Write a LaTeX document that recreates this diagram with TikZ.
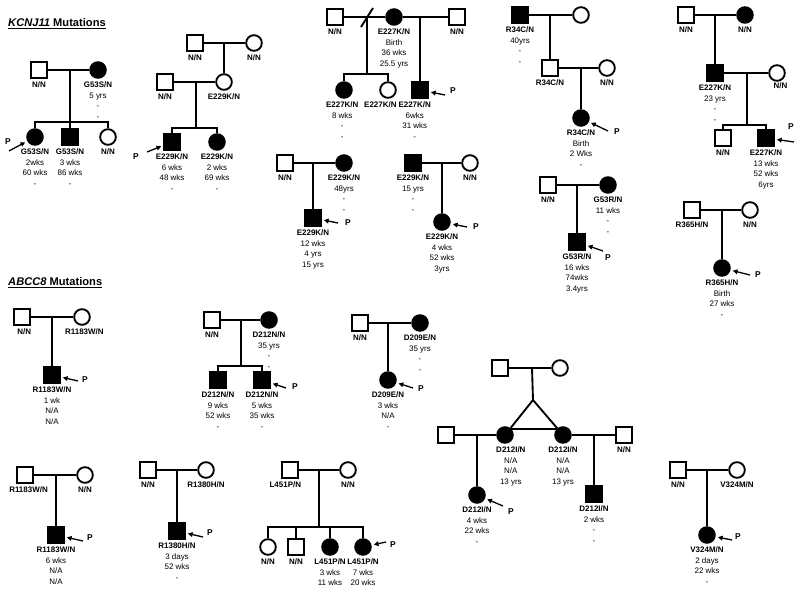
\documentclass[tikz,border=0pt]{standalone}
\usepackage{fontspec}
\setmainfont{Liberation Sans}
\usetikzlibrary{arrows.meta, positioning, calc}

\begin{document}
\begin{tikzpicture}[x=0.03cm, y=-0.03cm,
  male/.style={draw, rectangle, line width=1.6pt, minimum size=0.46cm, inner sep=0pt, fill=white},
  female/.style={draw, circle, line width=1.6pt, minimum size=0.47cm, inner sep=0pt, fill=white},
  aff/.style={fill=black},
  link/.style={line width=1.6pt},
  info/.style={align=center, inner sep=0pt, font=\fontsize{6.8}{9}\selectfont},
  tag/.style={inner sep=0pt, font=\bfseries\fontsize{7.2}{9}\selectfont},
  parrow/.style={-{Triangle[length=4pt, width=4pt]}, line width=1.1pt, shorten >=2pt},
  heading/.style={anchor=west, inner sep=0pt, font=\bfseries\fontsize{9.5}{11}\selectfont},
  node distance=2.5pt
]
\useasboundingbox (0,0) rectangle (800,592);

\node[heading] (kcnj) at (8,24) {\underline{\textit{KCNJ11} Mutations}};
\node[heading] (abcc) at (8,283) {\underline{\textit{ABCC8} Mutations}};

% ---------- KCNJ11: G53S
\node[male] (p1f) at (39,70) {};
\node[female, aff] (p1m) at (98,70) {};
\node[female, aff] (p1c1) at (35,137) {};
\node[male, aff] (p1c2) at (70,137) {};
\node[female] (p1c3) at (108,137) {};
\coordinate (p1d) at (70,70);
\coordinate (p1s) at (70,122);
\draw[link] (p1f) -- (p1m);
\draw[link] (p1d) -- (p1c2);
\draw[link] (p1c1) |- (p1s) -| (p1c3);
\node[info, below=of p1f] (l1f) {\textbf{N/N}};
\node[info, below=of p1m] (l1m) {\textbf{G53S/N}\\5 yrs\\-\\-};
\node[info, below=of p1c1] (l1c1) {\textbf{G53S/N}\\2wks\\60 wks\\-};
\node[info, below=of p1c2] (l1c2) {\textbf{G53S/N}\\3 wks\\86 wks\\-};
\node[info, below=of p1c3] (l1c3) {\textbf{N/N}};
\node[tag] (p1p) at (8,142) {P};
\coordinate (p1a) at (9,151);
\draw[parrow] (p1a) -- (p1c1);

% ---------- KCNJ11: E229K (three generations)
\node[male] (p2gf) at (195,43) {};
\node[female] (p2gm) at (254,43) {};
\node[male] (p2f) at (165,82) {};
\node[female] (p2m) at (224,82) {};
\node[male, aff] (p2c1) at (172,142) {};
\node[female, aff] (p2c2) at (217,142) {};
\coordinate (p2g) at (224,43);
\coordinate (p2d) at (196,82);
\coordinate (p2s) at (196,128);
\draw[link] (p2gf) -- (p2gm);
\draw[link] (p2g) -- (p2m);
\draw[link] (p2f) -- (p2m);
\draw[link] (p2d) -- (p2s);
\draw[link] (p2c1) |- (p2s) -| (p2c2);
\node[info, below=of p2gf] (l2gf) {\textbf{N/N}};
\node[info, below=of p2gm] (l2gm) {\textbf{N/N}};
\node[info, below=of p2f] (l2f) {\textbf{N/N}};
\node[info, below=of p2m] (l2m) {\textbf{E229K/N}};
\node[info, below=of p2c1] (l2c1) {\textbf{E229K/N}\\6 wks\\48 wks\\-};
\node[info, below=of p2c2] (l2c2) {\textbf{E229K/N}\\2 wks\\69 wks\\-};
\node[tag] (p2p) at (136,157) {P};
\coordinate (p2a) at (147,152);
\draw[parrow] (p2a) -- (p2c1);

% ---------- KCNJ11: E227K (two partners)
\node[male] (p3f1) at (335,17) {};
\node[female, aff] (p3m) at (394,17) {};
\node[male] (p3f2) at (457,17) {};
\node[female, aff] (p3c1) at (344,90) {};
\node[female] (p3c2) at (388,90) {};
\node[male, aff] (p3c3) at (420,90) {};
\coordinate (p3d1) at (367,17);
\coordinate (p3s1) at (367,74);
\coordinate (p3d2) at (420,17);
\draw[link] (p3f1) -- (p3m);
\draw[link] (p3m) -- (p3f2);
\draw[link] ($(p3d1)+(-6,10)$) -- ($(p3d1)+(6,-9)$);
\draw[link] (p3d1) -- (p3s1);
\draw[link] (p3c1) |- (p3s1) -| (p3c2);
\draw[link] (p3d2) -- (p3c3);
\node[info, below=of p3f1] (l3f1) {\textbf{N/N}};
\node[info, below=of p3m] (l3m) {\textbf{E227K/N}\\Birth\\36 wks\\25.5 yrs};
\node[info, below=of p3f2] (l3f2) {\textbf{N/N}};
\node[info, below=of p3c1, xshift=-1.5pt] (l3c1) {\textbf{E227K/N}\\8 wks\\-\\-};
\node[info, below=of p3c2, xshift=-6.5pt] (l3c2) {\textbf{E227K/N}};
\node[info, below=of p3c3, xshift=-4.5pt] (l3c3) {\textbf{E227K/N}\\6wks\\31 wks\\-};
\node[tag] (p3p) at (453,91) {P};
\coordinate (p3a) at (445,95);
\draw[parrow] (p3a) -- (p3c3);

% ---------- KCNJ11: R34C
\node[male, aff] (p4f) at (520,15) {};
\node[female] (p4m) at (581,15) {};
\node[male] (p4s) at (550,68) {};
\node[female] (p4w) at (607,68) {};
\node[female, aff] (p4c) at (581,118) {};
\coordinate (p4d1) at (550,15);
\coordinate (p4d2) at (581,68);
\draw[link] (p4f) -- (p4m);
\draw[link] (p4d1) -- (p4s);
\draw[link] (p4s) -- (p4w);
\draw[link] (p4d2) -- (p4c);
\node[info, below=of p4f] (l4f) {\textbf{R34C/N}\\40yrs\\-\\-};
\node[info, below=of p4s] (l4s) {\textbf{R34C/N}};
\node[info, below=of p4w] (l4w) {\textbf{N/N}};
\node[info, below=of p4c] (l4c) {\textbf{R34C/N}\\Birth\\2 Wks\\-};
\node[tag] (p4p) at (617,132) {P};
\coordinate (p4a) at (608,131);
\draw[parrow] (p4a) -- (p4c);

% ---------- KCNJ11: E227K (three generations)
\node[male] (p5f) at (686,15) {};
\node[female, aff] (p5m) at (745,15) {};
\node[male, aff] (p5s) at (715,73) {};
\node[female] (p5w) at (777,73) {};
\node[male] (p5c1) at (723,138) {};
\node[male, aff] (p5c2) at (766,138) {};
\coordinate (p5d1) at (715,15);
\coordinate (p5d2) at (747,73);
\coordinate (p5s2) at (747,125);
\draw[link] (p5f) -- (p5m);
\draw[link] (p5d1) -- (p5s);
\draw[link] (p5s) -- (p5w);
\draw[link] (p5d2) -- (p5s2);
\draw[link] (p5c1) |- (p5s2) -| (p5c2);
\node[info, below=of p5f] (l5f) {\textbf{N/N}};
\node[info, below=of p5m] (l5m) {\textbf{N/N}};
\node[info, below=of p5s] (l5s) {\textbf{E227K/N}\\23 yrs\\-\\-};
\node[info, below=1pt of p5w, xshift=3pt] (l5w) {\textbf{N/N}};
\node[info, below=of p5c1] (l5c1) {\textbf{N/N}};
\node[info, below=of p5c2] (l5c2) {\textbf{E227K/N}\\13 wks\\52 wks\\6yrs};
\node[tag] (p5p) at (791,127) {P};
\coordinate (p5a) at (794,142);
\draw[parrow] (p5a) -- (p5c2);

% ---------- KCNJ11: E229K (48yrs)
\node[male] (p6f) at (285,163) {};
\node[female, aff] (p6m) at (344,163) {};
\node[male, aff] (p6c) at (313,218) {};
\coordinate (p6d) at (313,163);
\draw[link] (p6f) -- (p6m);
\draw[link] (p6d) -- (p6c);
\node[info, below=of p6f] (l6f) {\textbf{N/N}};
\node[info, below=of p6m] (l6m) {\textbf{E229K/N}\\48yrs\\-\\-};
\node[info, below=of p6c] (l6c) {\textbf{E229K/N}\\12 wks\\4 yrs\\15 yrs};
\node[tag] (p6p) at (348,223) {P};
\coordinate (p6a) at (338,223);
\draw[parrow] (p6a) -- (p6c);

% ---------- KCNJ11: E229K (15 yrs)
\node[male, aff] (p7f) at (413,163) {};
\node[female] (p7m) at (470,163) {};
\node[female, aff] (p7c) at (442,222) {};
\coordinate (p7d) at (442,163);
\draw[link] (p7f) -- (p7m);
\draw[link] (p7d) -- (p7c);
\node[info, below=of p7f] (l7f) {\textbf{E229K/N}\\15 yrs\\-\\-};
\node[info, below=of p7m] (l7m) {\textbf{N/N}};
\node[info, below=of p7c] (l7c) {\textbf{E229K/N}\\4 wks\\52 wks\\3yrs};
\node[tag] (p7p) at (476,227) {P};
\coordinate (p7a) at (467,227);
\draw[parrow] (p7a) -- (p7c);

% ---------- KCNJ11: G53R
\node[male] (p8f) at (548,185) {};
\node[female, aff] (p8m) at (608,185) {};
\node[male, aff] (p8c) at (577,242) {};
\coordinate (p8d) at (577,185);
\draw[link] (p8f) -- (p8m);
\draw[link] (p8d) -- (p8c);
\node[info, below=of p8f] (l8f) {\textbf{N/N}};
\node[info, below=of p8m] (l8m) {\textbf{G53R/N}\\11 wks\\-\\-};
\node[info, below=of p8c] (l8c) {\textbf{G53R/N}\\16 wks\\74wks\\3.4yrs};
\node[tag] (p8p) at (608,258) {P};
\coordinate (p8a) at (603,251);
\draw[parrow] (p8a) -- (p8c);

% ---------- KCNJ11: R365H
\node[male] (p9f) at (692,210) {};
\node[female] (p9m) at (750,210) {};
\node[female, aff] (p9c) at (722,268) {};
\coordinate (p9d) at (722,210);
\draw[link] (p9f) -- (p9m);
\draw[link] (p9d) -- (p9c);
\node[info, below=of p9f] (l9f) {\textbf{R365H/N}};
\node[info, below=of p9m] (l9m) {\textbf{N/N}};
\node[info, below=of p9c] (l9c) {\textbf{R365H/N}\\Birth\\27 wks\\-};
\node[tag] (p9p) at (758,275) {P};
\coordinate (p9a) at (750,275);
\draw[parrow] (p9a) -- (p9c);

% ---------- ABCC8: R1183W (1 wk)
\node[male] (p10f) at (22,317) {};
\node[female] (p10m) at (82,317) {};
\node[male, aff] (p10c) at (52,375) {};
\coordinate (p10d) at (52,317);
\draw[link] (p10f) -- (p10m);
\draw[link] (p10d) -- (p10c);
\node[info, below=of p10f, xshift=2pt] (l10f) {\textbf{N/N}};
\node[info, below=of p10m, xshift=2pt] (l10m) {\textbf{R1183W/N}};
\node[info, below=of p10c] (l10c) {\textbf{R1183W/N}\\1 wk\\N/A\\N/A};
\node[tag] (p10p) at (85,380) {P};
\coordinate (p10a) at (78,381);
\draw[parrow] (p10a) -- (p10c);

% ---------- ABCC8: D212N
\node[male] (p11f) at (212,320) {};
\node[female, aff] (p11m) at (269,320) {};
\node[male, aff] (p11c1) at (218,380) {};
\node[male, aff] (p11c2) at (262,380) {};
\coordinate (p11d) at (241,320);
\coordinate (p11s) at (241,366);
\draw[link] (p11f) -- (p11m);
\draw[link] (p11d) -- (p11s);
\draw[link] (p11c1) |- (p11s) -| (p11c2);
\node[info, below=of p11f] (l11f) {\textbf{N/N}};
\node[info, below=of p11m] (l11m) {\textbf{D212N/N}\\35 yrs\\-\\-};
\node[info, below=of p11c1] (l11c1) {\textbf{D212N/N}\\9 wks\\52 wks\\-};
\node[info, below=of p11c2] (l11c2) {\textbf{D212N/N}\\5 wks\\35 wks\\-};
\node[tag] (p11p) at (295,387) {P};
\coordinate (p11a) at (286,388);
\draw[parrow] (p11a) -- (p11c2);

% ---------- ABCC8: D209E
\node[male] (p12f) at (360,323) {};
\node[female, aff] (p12m) at (420,323) {};
\node[female, aff] (p12c) at (388,380) {};
\coordinate (p12d) at (388,323);
\draw[link] (p12f) -- (p12m);
\draw[link] (p12d) -- (p12c);
\node[info, below=of p12f] (l12f) {\textbf{N/N}};
\node[info, below=of p12m] (l12m) {\textbf{D209E/N}\\35 yrs\\-\\-};
\node[info, below=of p12c] (l12c) {\textbf{D209E/N}\\3 wks\\N/A\\-};
\node[tag] (p12p) at (421,389) {P};
\coordinate (p12a) at (413,388);
\draw[parrow] (p12a) -- (p12c);

% ---------- ABCC8: D212I (twins)
\node[male] (p13f) at (500,368) {};
\node[female] (p13m) at (560,368) {};
\node[female, aff] (p13t1) at (505,435) {};
\node[female, aff] (p13t2) at (563,435) {};
\node[male] (p13s1) at (446,435) {};
\node[male] (p13s2) at (624,435) {};
\node[female, aff] (p13c1) at (477,495) {};
\node[male, aff] (p13c2) at (594,494) {};
\coordinate (p13d) at (532,368);
\coordinate (p13ap) at (533,400);
\coordinate (p13d1) at (477,435);
\coordinate (p13d2) at (594,435);
\draw[link] (p13f) -- (p13m);
\draw[link] (p13d) -- (p13ap);
\draw[link] (p13ap) -- (p13t1);
\draw[link] (p13ap) -- (p13t2);
\draw[link] (p13t1.north east) -- (p13t2.north west);
\draw[link] (p13s1) -- (p13t1);
\draw[link] (p13t2) -- (p13s2);
\draw[link] (p13d1) -- (p13c1);
\draw[link] (p13d2) -- (p13c2);
\node[info, below=of p13t1, xshift=5pt] (l13t1) {\textbf{D212I/N}\\N/A\\N/A\\13 yrs};
\node[info, below=of p13t2] (l13t2) {\textbf{D212I/N}\\N/A\\N/A\\13 yrs};
\node[info, below=of p13s2] (l13s2) {\textbf{N/N}};
\node[info, below=of p13c1] (l13c1) {\textbf{D212I/N}\\4 wks\\22 wks\\-};
\node[info, below=of p13c2] (l13c2) {\textbf{D212I/N}\\2 wks\\-\\-};
\node[tag] (p13p) at (511,512) {P};
\coordinate (p13a) at (503,506);
\draw[parrow] (p13a) -- (p13c1);

% ---------- ABCC8: R1183W (6 wks)
\node[male] (p14f) at (25,475) {};
\node[female] (p14m) at (85,475) {};
\node[male, aff] (p14c) at (56,535) {};
\coordinate (p14d) at (56,475);
\draw[link] (p14f) -- (p14m);
\draw[link] (p14d) -- (p14c);
\node[info, below=of p14f, xshift=3pt] (l14f) {\textbf{R1183W/N}};
\node[info, below=of p14m] (l14m) {\textbf{N/N}};
\node[info, below=of p14c] (l14c) {\textbf{R1183W/N}\\6 wks\\N/A\\N/A};
\node[tag] (p14p) at (90,538) {P};
\coordinate (p14a) at (83,541);
\draw[parrow] (p14a) -- (p14c);

% ---------- ABCC8: R1380H
\node[male] (p15f) at (148,470) {};
\node[female] (p15m) at (206,470) {};
\node[male, aff] (p15c) at (177,531) {};
\coordinate (p15d) at (177,470);
\draw[link] (p15f) -- (p15m);
\draw[link] (p15d) -- (p15c);
\node[info, below=of p15f] (l15f) {\textbf{N/N}};
\node[info, below=of p15m] (l15m) {\textbf{R1380H/N}};
\node[info, below=of p15c] (l15c) {\textbf{R1380H/N}\\3 days\\52 wks\\-};
\node[tag] (p15p) at (210,533) {P};
\coordinate (p15a) at (203,537);
\draw[parrow] (p15a) -- (p15c);

% ---------- ABCC8: L451P
\node[male] (p16f) at (290,470) {};
\node[female] (p16m) at (348,470) {};
\node[female] (p16c1) at (268,547) {};
\node[male] (p16c2) at (296,547) {};
\node[female, aff] (p16c3) at (330,547) {};
\node[female, aff] (p16c4) at (363,547) {};
\coordinate (p16d) at (319,470);
\coordinate (p16s) at (319,527);
\draw[link] (p16f) -- (p16m);
\draw[link] (p16d) -- (p16s);
\draw[link] (p16c1) |- (p16s) -| (p16c4);
\draw[link] (p16c2) -- (p16c2 |- p16s);
\draw[link] (p16c3) -- (p16c3 |- p16s);
\node[info, below=of p16f, xshift=-4pt] (l16f) {\textbf{L451P/N}};
\node[info, below=of p16m] (l16m) {\textbf{N/N}};
\node[info, below=of p16c1] (l16c1) {\textbf{N/N}};
\node[info, below=of p16c2] (l16c2) {\textbf{N/N}};
\node[info, below=of p16c3] (l16c3) {\textbf{L451P/N}\\3 wks\\11 wks};
\node[info, below=of p16c4] (l16c4) {\textbf{L451P/N}\\7 wks\\20 wks};
\node[tag] (p16p) at (393,545) {P};
\coordinate (p16a) at (386,542);
\draw[parrow] (p16a) -- (p16c4);

% ---------- ABCC8: V324M
\node[male] (p17f) at (678,470) {};
\node[female] (p17m) at (737,470) {};
\node[female, aff] (p17c) at (707,535) {};
\coordinate (p17d) at (707,470);
\draw[link] (p17f) -- (p17m);
\draw[link] (p17d) -- (p17c);
\node[info, below=of p17f] (l17f) {\textbf{N/N}};
\node[info, below=of p17m] (l17m) {\textbf{V324M/N}};
\node[info, below=of p17c] (l17c) {\textbf{V324M/N}\\2 days\\22 wks\\-};
\node[tag] (p17p) at (738,537) {P};
\coordinate (p17a) at (732,540);
\draw[parrow] (p17a) -- (p17c);
\end{tikzpicture}
\end{document}
